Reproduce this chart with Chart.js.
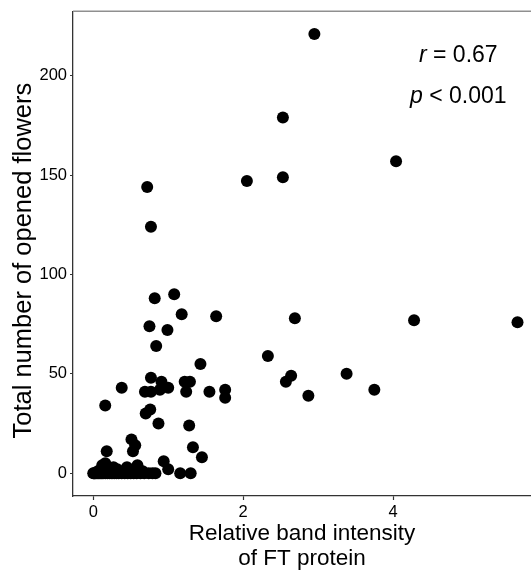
<!DOCTYPE html>
<html><head><meta charset="utf-8">
<script src="https://cdn.jsdelivr.net/npm/chart.js@4.4.1/dist/chart.umd.min.js"></script>
<style>html,body{margin:0;padding:0;background:#fff;}#wrap{width:531px;height:574px;}</style>
</head><body><div id="wrap"><canvas id="c" width="531" height="574"></canvas></div>
<script>
// Relative band intensity of FT protein (x) and total number of opened flowers (y)
const ftIntensity = [
  2.95, 2.53, 2.53, 2.05, 4.04, 0.72, 0.77,
  1.08, 0.82, 1.18, 1.64, 2.69, 4.28, 5.66, 0.75, 0.99, 0.84, 2.33, 1.43, 3.38, 2.64, 2.57, 3.75, 1.76, 1.76, 2.87,
  0.77, 0.91, 1.00, 0.69, 0.77, 0.89, 1.22, 1.29, 1.24, 0.38, 1.55,
  0.16, 0.70, 0.76, 0.87, 1.28, 0.51, 0.56, 0.53, 0.18, 1.33, 1.45, 0.16, 0.45, 0.59, 0.94, 1.00, 1.16, 1.30, 0.83, 0.32, 0.12,
  0.00, 0.01, 0.02, 0.03, 0.05, 0.07, 0.09, 0.11, 0.13, 0.16, 0.19, 0.22, 0.25, 0.28, 0.31, 0.34, 0.38, 0.42, 0.46, 0.50, 0.54, 0.58, 0.63, 0.68, 0.74, 0.79,
  0.06, 0.22, 0.35, 0.48, 0.66, 0.27
];
const openedFlowers = [
  221, 179, 149, 147, 157, 144, 124,
  90, 88, 80, 79, 78, 77, 76, 74, 72, 64, 59, 55, 50, 49, 46, 42, 42, 38, 39,
  48, 46, 43, 41, 41, 42, 46, 46, 41, 43, 41,
  34, 30, 32, 25, 24, 17, 14, 11, 11, 13, 8, 5, 3, 4, 6, 2, 0, 0, 0, 2, 4,
  0, 0, 0, 0, 0, 0, 0, 0, 0, 0, 0, 0, 0, 0, 0, 0, 0, 0, 0, 0, 0, 0, 0, 0, 0, 0,
  1, 1, 1, 2, 1, 3
];
const xTickValues = [0, 2, 4];
const yTickValues = [0, 50, 100, 150, 200];
const xRange = [-0.27, 5.84];
const yRange = [-11.5, 232.5];
const xTitle = ['Relative band intensity', 'of FT protein'];
const yTitle = 'Total number of opened flowers';
const statLines = [['r', ' = 0.67'], ['p', ' < 0.001']];
const statAnchors = [[4.87, 210], [4.87, 189.7]];

const FONT = "'Liberation Sans', Arial, Helvetica, sans-serif";

const points = ftIntensity.map((x, i) => ({x: x, y: openedFlowers[i]}));

const extrasPlugin = {
  id: 'extras',
  afterLayout(chart) {
    // let the panel run to the right edge of the canvas, as in the cropped original
    const s = chart.scales.x;
    chart.chartArea.right = chart.width;
    chart.chartArea.width = chart.width - chart.chartArea.left;
    s.right = chart.width;
    s.width = s.right - s.left;
    s.configure();
  },
  afterDraw(chart) {
    const {ctx, chartArea, scales} = chart;
    ctx.save();
    // top panel border
    ctx.strokeStyle = '#8f8f8f';
    ctx.lineWidth = 1.5;
    ctx.beginPath();
    ctx.moveTo(chartArea.left, chartArea.top);
    ctx.lineTo(chart.width, chartArea.top);
    ctx.stroke();
    // y axis title
    ctx.save();
    ctx.translate(24, (chartArea.top + chartArea.bottom) / 2 + 7);
    ctx.rotate(-Math.PI / 2);
    ctx.font = '25.5px ' + FONT;
    ctx.fillStyle = '#000';
    ctx.textAlign = 'center';
    ctx.textBaseline = 'middle';
    ctx.fillText(yTitle, 0, 0);
    ctx.restore();
    // stats text
    ctx.fillStyle = '#000';
    ctx.textBaseline = 'middle';
    ctx.textAlign = 'left';
    statLines.forEach((parts, i) => {
      const cx = scales.x.getPixelForValue(statAnchors[i][0]);
      const cy = scales.y.getPixelForValue(statAnchors[i][1]);
      ctx.font = 'italic 23px ' + FONT;
      const w1 = ctx.measureText(parts[0]).width;
      ctx.font = '23px ' + FONT;
      const w2 = ctx.measureText(parts[1]).width;
      let x0 = cx - (w1 + w2) / 2;
      ctx.font = 'italic 23px ' + FONT;
      ctx.fillText(parts[0], x0, cy);
      ctx.font = '23px ' + FONT;
      ctx.fillText(parts[1], x0 + w1, cy);
    });
    ctx.restore();
  }
};

new Chart(document.getElementById('c'), {
  type: 'scatter',
  data: {
    datasets: [{
      data: points,
      backgroundColor: '#000',
      borderColor: '#000',
      borderWidth: 0,
      pointRadius: 6,
      pointHoverRadius: 6,
      clip: false
    }]
  },
  options: {
    responsive: false,
    devicePixelRatio: 1,
    animation: false,
    events: [],
    layout: {padding: {top: 8, right: 0, left: 0, bottom: 0}},
    plugins: {legend: {display: false}, tooltip: {enabled: false}},
    scales: {
      x: {
        type: 'linear',
        min: xRange[0], max: xRange[1],
        afterBuildTicks: s => { s.ticks = xTickValues.map(v => ({value: v})); },
        afterFit: s => { s.height = 78; s.paddingLeft = 0; s.paddingRight = 0; },
        grid: {drawOnChartArea: false, drawTicks: true, tickLength: 4, tickColor: '#333', tickWidth: 1.2},
        border: {display: true, color: '#333', width: 1.3},
        ticks: {color: '#000', padding: 3, font: {family: FONT, size: 16.5, lineHeight: 1.1}, maxRotation: 0},
        title: {display: true, text: xTitle, color: '#000', font: {family: FONT, size: 22.5, lineHeight: 1.13}, padding: {top: 0, bottom: 2}}
      },
      y: {
        type: 'linear',
        min: yRange[0], max: yRange[1],
        afterBuildTicks: s => { s.ticks = yTickValues.map(v => ({value: v})); },
        afterFit: s => { s.width = 73; },
        grid: {drawOnChartArea: false, drawTicks: true, tickLength: 3, tickColor: '#333', tickWidth: 1.2},
        border: {display: true, color: '#333', width: 1.3},
        ticks: {color: '#000', padding: 3, font: {family: FONT, size: 16.5, lineHeight: 1}},
        title: {display: false}
      }
    }
  },
  plugins: [extrasPlugin]
});
</script></body></html>
